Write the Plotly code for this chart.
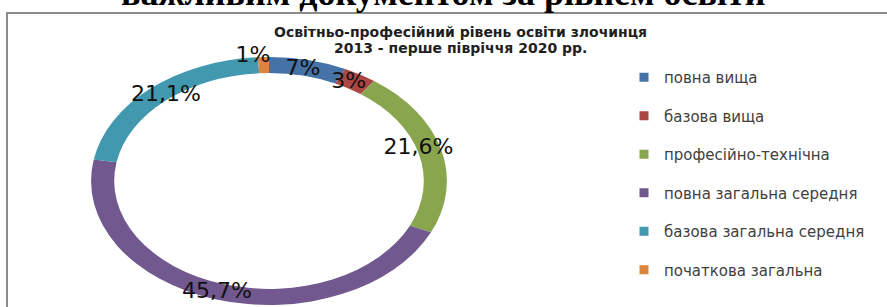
import plotly.graph_objects as go

# ---- data ----
categories = ["повна вища", "базова вища", "професійно-технічна",
              "повна загальна середня", "базова загальна середня", "початкова загальна"]
shares = [7, 3, 21.6, 45.7, 21.1, 1]
colors = ["#4572A7", "#AA4643", "#89A54E", "#71588F", "#4198AF", "#DB843D"]
labels_text = [f"{v:g}%".replace(".", ",") for v in shares]

title_lines = ["Освітньо-професійний рівень освіти злочинця", "2013 - перше півріччя 2020 рр."]
heading = "важливим документом за рівнем освіти"

W, H = 887, 307

fig = go.Figure()

fig.add_trace(go.Pie(
    labels=categories,
    values=shares,
    text=labels_text,
    textinfo="text",
    textposition="inside",
    insidetextorientation="auto",
    insidetextfont=dict(family="DejaVu Sans", size=22, color="#111111"),
    marker=dict(colors=colors, line=dict(width=0)),
    hole=0.87,
    sort=False,
    direction="clockwise",
    rotation=0,
    showlegend=False,
    hoverinfo="skip",
    domain=dict(x=[(269 - 124) / W, (269 + 124) / W], y=[2 / H, 250 / H]),
))

# legend entries (one group each, for spacing)
for cat, col in zip(categories, colors):
    fig.add_trace(go.Scatter(
        x=[None], y=[None], mode="markers", name=cat, legendgroup=cat,
        marker=dict(symbol="square", size=9, color=col),
        hoverinfo="skip",
    ))

fig.update_layout(
    width=W, height=H,
    margin=dict(l=0, r=0, t=0, b=0),
    paper_bgcolor="white", plot_bgcolor="white",
    xaxis=dict(visible=False), yaxis=dict(visible=False),
    uniformtext=dict(minsize=22, mode="show"),
    legend=dict(
        x=624 / W, y=1 - 61 / H, xanchor="left", yanchor="top",
        font=dict(family="DejaVu Sans", size=15, color="#404040"),
        tracegroupgap=16, bgcolor="rgba(0,0,0,0)",
    ),
    shapes=[dict(type="rect", xref="paper", yref="paper",
                 x0=7 / W, x1=1.02, y0=-0.02, y1=1 - 13 / H,
                 line=dict(color="#8c8c8c", width=2), fillcolor="rgba(0,0,0,0)")],
    annotations=[
        dict(text=heading, x=0.4989, y=1.023, xref="paper", yref="paper",
             xanchor="center", yanchor="middle", showarrow=False,
             font=dict(family="Liberation Serif", size=36, color="black", weight="bold")),
        dict(text=title_lines[0], x=460 / W, y=1 - 32 / H, xref="paper", yref="paper",
             xanchor="center", yanchor="middle", showarrow=False,
             font=dict(family="DejaVu Sans", size=14, color="#1f1f1f", weight="bold")),
        dict(text=title_lines[1], x=460 / W, y=1 - 48 / H, xref="paper", yref="paper",
             xanchor="center", yanchor="middle", showarrow=False,
             font=dict(family="DejaVu Sans", size=14, color="#1f1f1f", weight="bold")),
    ],
)

post = """
document.body.style.margin = '0';
var gd = document.getElementById('{plot_id}');
var k = 1.435;
var sz = gd._fullLayout._size;
var dom = gd._fullData[0].domain;
var cx = sz.l + (dom.x[0] + dom.x[1]) / 2 * sz.w;
var layer = gd.querySelector('.pielayer');
layer.setAttribute('transform', 'translate(' + cx + ',0) scale(' + k + ',1) translate(' + (-cx) + ',0)');
layer.querySelectorAll('g.slicetext').forEach(function(t){
  var txt = t.querySelector('text');
  var tr = txt.getAttribute('transform') || '';
  txt.setAttribute('transform', tr.replace(/rotate\\([^)]*\\)/g, ''));
  var b = t.getBBox();
  var tx = b.x + b.width / 2, ty = b.y + b.height / 2;
  t.setAttribute('transform', 'translate(' + tx + ',' + ty + ') scale(' + (1 / k) + ',1) translate(' + (-tx) + ',' + (-ty) + ')');
});
"""

fig.write_html("out.html", post_script=post, config={"displayModeBar": False})
